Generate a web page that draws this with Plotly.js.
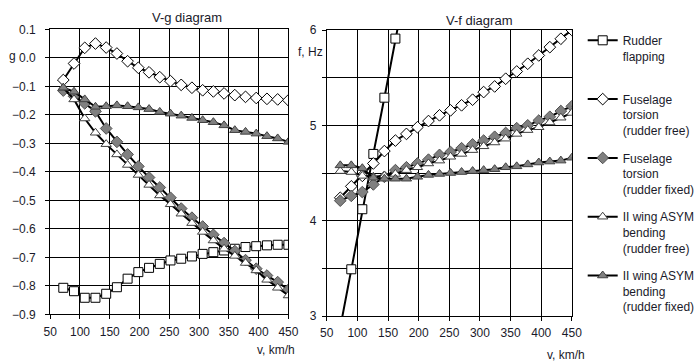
<!DOCTYPE html>
<html>
<head>
<meta charset="utf-8">
<script src="https://cdn.plot.ly/plotly-3.0.1.min.js"></script>
<style>html,body{margin:0;padding:0;background:#fff;}#chart{width:700px;height:361px;}</style>
</head>
<body>
<div id="chart"></div>
<script>
// speeds, km/h
const speeds = [72, 90, 108, 126, 144, 162, 180, 198, 216, 234, 252, 270, 288, 306, 324, 342, 360, 378, 396, 414, 432, 450];
const speedsFlapF = [72, 90, 108, 126, 144, 162, 180];

const seriesNames = [
  'Rudder<br>flapping<br> ',
  'Fuselage<br>torsion<br>(rudder free)',
  'Fuselage<br>torsion<br>(rudder fixed)',
  'II wing ASYM<br>bending<br>(rudder free)',
  'II wing ASYM<br>bending<br>(rudder fixed)'
];

// V-g diagram (damping g)
const rudderFlapG = [-0.807, -0.819, -0.842, -0.842, -0.828, -0.805, -0.775, -0.752, -0.737, -0.723, -0.711, -0.705, -0.697, -0.688, -0.682, -0.676, -0.670, -0.664, -0.661, -0.658, -0.656, -0.656];
const fusFreeG = [-0.078, -0.020, 0.035, 0.050, 0.036, 0.015, -0.012, -0.035, -0.051, -0.068, -0.082, -0.095, -0.105, -0.114, -0.118, -0.125, -0.131, -0.137, -0.141, -0.144, -0.146, -0.149];
const fusFixedG = [-0.115, -0.135, -0.160, -0.188, -0.248, -0.295, -0.339, -0.381, -0.420, -0.455, -0.491, -0.529, -0.561, -0.592, -0.621, -0.650, -0.678, -0.710, -0.740, -0.764, -0.787, -0.814];
const wingFreeG = [-0.105, -0.146, -0.213, -0.263, -0.303, -0.339, -0.376, -0.411, -0.446, -0.483, -0.514, -0.547, -0.580, -0.611, -0.641, -0.670, -0.695, -0.720, -0.746, -0.779, -0.807, -0.834];
const wingFixedG = [-0.105, -0.119, -0.146, -0.172, -0.170, -0.167, -0.170, -0.174, -0.180, -0.190, -0.196, -0.203, -0.211, -0.219, -0.226, -0.237, -0.254, -0.260, -0.266, -0.275, -0.283, -0.295];

// V-f diagram (frequency f, Hz)
const rudderFlapF = [2.88, 3.49, 4.12, 4.70, 5.29, 5.91, 6.50];
const fusFreeF = [4.24, 4.36, 4.47, 4.60, 4.73, 4.84, 4.91, 4.98, 5.045, 5.105, 5.157, 5.21, 5.269, 5.349, 5.408, 5.489, 5.565, 5.646, 5.733, 5.82, 5.908, 6.00];
const fusFixedF = [4.21, 4.26, 4.30, 4.38, 4.46, 4.53, 4.56, 4.60, 4.64, 4.69, 4.72, 4.76, 4.80, 4.84, 4.88, 4.92, 4.97, 5.00, 5.05, 5.09, 5.15, 5.20];
const wingFreeF = [4.52, 4.51, 4.47, 4.46, 4.47, 4.49, 4.53, 4.56, 4.60, 4.63, 4.67, 4.70, 4.74, 4.78, 4.82, 4.86, 4.91, 4.95, 4.98, 5.03, 5.08, 5.13];
const wingFixedF = [4.58, 4.58, 4.55, 4.45, 4.44, 4.44, 4.44, 4.46, 4.48, 4.49, 4.50, 4.51, 4.52, 4.53, 4.54, 4.56, 4.57, 4.59, 4.61, 4.62, 4.63, 4.66];

const xTicks = [50, 100, 150, 200, 250, 300, 350, 400, 450];
const gTicks = [0.1, 0.0, -0.1, -0.2, -0.3, -0.4, -0.5, -0.6, -0.7, -0.8, -0.9];
const fTicks = [3, 3.5, 4, 4.5, 5, 5.5, 6];
const fTickText = ['3', '', '4', '', '5', '', '6'];

const styles = [
  {symbol: 'square', size: 9, color: '#ffffff', lc: '#000000'},
  {symbol: 'diamond', size: 9, color: '#ffffff', lc: '#000000'},
  {symbol: 'diamond', size: 9, color: '#808080', lc: '#505050'},
  {symbol: 'triangle-up', size: 9, color: '#ffffff', lc: '#404040'},
  {symbol: 'triangle-up', size: 9, color: '#808080', lc: '#404040'}
];

function mk(x, y, i, xa, ya, show) {
  const s = styles[i];
  return {
    x: x, y: y, xaxis: xa, yaxis: ya, type: 'scatter', mode: 'lines+markers',
    name: seriesNames[i], legendgroup: 'g' + i, showlegend: show,
    line: {color: '#000000', width: 2},
    marker: {symbol: s.symbol, size: s.size, color: s.color, line: {color: s.lc, width: 1}},
    hoverinfo: 'skip'
  };
}

const data = [
  mk(speeds, rudderFlapG, 0, 'x', 'y', true),
  mk(speeds, fusFreeG, 1, 'x', 'y', true),
  mk(speeds, fusFixedG, 2, 'x', 'y', true),
  mk(speeds, wingFreeG, 3, 'x', 'y', true),
  mk(speeds, wingFixedG, 4, 'x', 'y', true),
  mk(speedsFlapF, rudderFlapF, 0, 'x2', 'y2', false),
  mk(speeds, fusFreeF, 1, 'x2', 'y2', false),
  mk(speeds, fusFixedF, 2, 'x2', 'y2', false),
  mk(speeds, wingFreeF, 3, 'x2', 'y2', false),
  mk(speeds, wingFixedF, 4, 'x2', 'y2', false)
];

const tickFont = {family: 'Liberation Sans, Arial, sans-serif', size: 12, color: '#1a1a2a'};
const axCommon = {
  showgrid: true, gridcolor: '#000000', gridwidth: 1,
  showline: true, linecolor: '#000000', linewidth: 1, mirror: true,
  ticks: 'outside', ticklen: 4, tickcolor: '#000000', tickfont: tickFont,
  zeroline: false, fixedrange: true
};

function px(x) { return x / 700; }
function py(y) { return 1 - y / 361; }

const annFont = {family: 'Liberation Sans, Arial, sans-serif', size: 12, color: '#1a1a2a'};

const layout = {
  width: 700, height: 361,
  margin: {l: 0, r: 0, t: 0, b: 0},
  paper_bgcolor: '#ffffff', plot_bgcolor: '#ffffff',
  font: {family: 'Liberation Sans, Arial, sans-serif', size: 12, color: '#000'},
  xaxis: Object.assign({}, axCommon, {domain: [px(51), px(293)], range: [50, 450], tickvals: xTicks, anchor: 'y', ticklabelstandoff: 2}),
  yaxis: Object.assign({}, axCommon, {domain: [py(314.3), py(29.3)], range: [-0.9, 0.1], tickvals: gTicks, tickformat: '.1f', anchor: 'x', ticklabelstandoff: 7}),
  xaxis2: Object.assign({}, axCommon, {domain: [px(332), px(581)], range: [50, 450], tickvals: xTicks, anchor: 'y2', ticklabelstandoff: 2}),
  yaxis2: Object.assign({}, axCommon, {domain: [py(316), py(30)], range: [3, 6], tickvals: fTicks, ticktext: fTickText, anchor: 'x2', ticklabelstandoff: 3}),
  showlegend: true,
  legend: {
    x: px(592), y: py(26), xanchor: 'left', yanchor: 'top',
    font: {family: 'Liberation Sans, Arial, sans-serif', size: 12, color: '#1a1a2a'},
    valign: 'top', tracegroupgap: 9, bgcolor: 'rgba(0,0,0,0)', borderwidth: 0,
    itemwidth: 30
  },
  annotations: [
    {text: 'V-g diagram', x: px(190), y: py(18), xref: 'paper', yref: 'paper', showarrow: false, xanchor: 'center', yanchor: 'middle', font: {family: 'Liberation Sans, Arial, sans-serif', size: 13, color: '#1a1a2a'}},
    {text: 'V-f diagram', x: px(487), y: py(20), xref: 'paper', yref: 'paper', showarrow: false, xanchor: 'center', yanchor: 'middle', font: {family: 'Liberation Sans, Arial, sans-serif', size: 13, color: '#1a1a2a'}},
    {text: 'g', x: px(12.5), y: py(56), xref: 'paper', yref: 'paper', showarrow: false, xanchor: 'center', yanchor: 'middle', font: annFont},
    {text: 'f, Hz', x: px(330), y: py(52), xref: 'paper', yref: 'paper', showarrow: false, xanchor: 'right', yanchor: 'middle', font: annFont},
    {text: 'v, km/h', x: px(280.5), y: py(350), xref: 'paper', yref: 'paper', showarrow: false, xanchor: 'center', yanchor: 'middle', font: annFont},
    {text: 'v, km/h', x: px(575), y: py(355), xref: 'paper', yref: 'paper', showarrow: false, xanchor: 'center', yanchor: 'middle', font: annFont}
  ]
};

Plotly.newPlot('chart', data, layout, {displayModeBar: false, staticPlot: true});
</script>
</body>
</html>
